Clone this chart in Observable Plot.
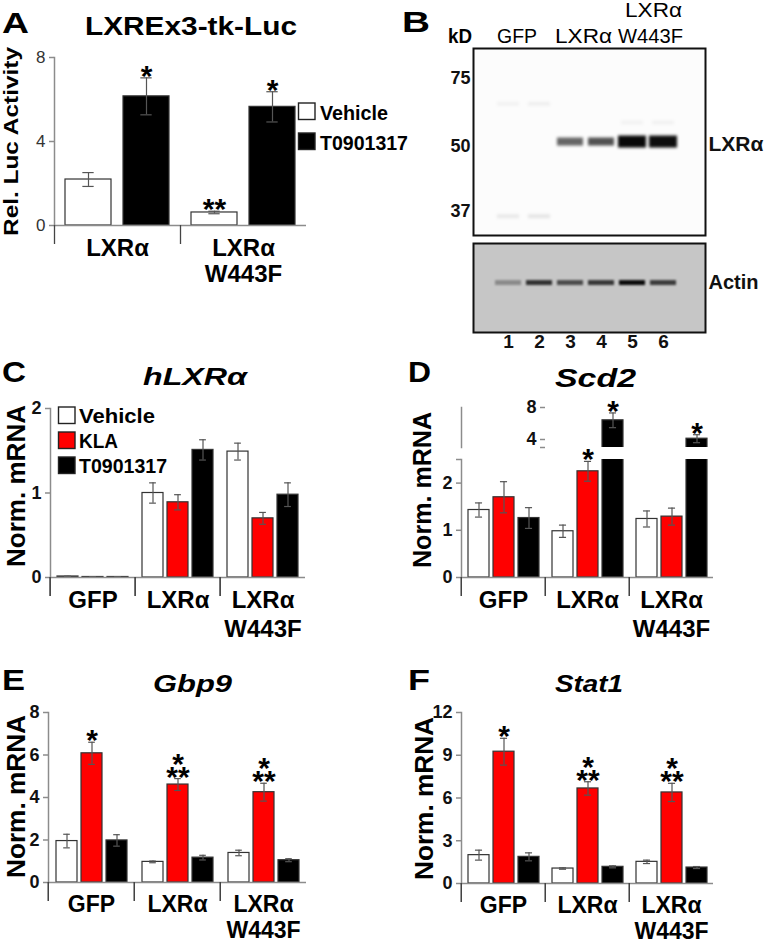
<!DOCTYPE html>
<html><head><meta charset="utf-8">
<script src="https://cdn.jsdelivr.net/npm/d3@7"></script>
<script src="https://cdn.jsdelivr.net/npm/@observablehq/plot@0.6"></script>
<style>
body{margin:0;background:#fff;}
#fig{position:relative;width:766px;height:943px;overflow:hidden;background:#fff;}
</style></head>
<body><div id="fig"></div>
<script>
// ---------- data ----------
const treat3 = ["Vehicle", "KLA", "T0901317"];
const treat2 = ["Vehicle", "T0901317"];
const fills3 = ["#ffffff", "#ff0000", "#000000"];
const fills2 = ["#ffffff", "#000000"];
const groups3 = ["GFP", "LXRα", "LXRα\nW443F"];
const groups2 = ["LXRα", "LXRα\nW443F"];

// Panel A: LXREx3-tk-Luc (groups2)
const aVehicle = [2.19, 0.62], aVehicleErr = [0.33, 0.06], aVehicleStar = ["", "**"];
const aT0901317 = [6.15, 5.65], aT0901317Err = [0.88, 0.72], aT0901317Star = ["*", "*"];

// Panel C: hLXRα
const cVehicle = [0.012, 1.00, 1.49], cVehicleErr = [0.004, 0.12, 0.10];
const cKLA = [0.006, 0.89, 0.70], cKLAErr = [0.002, 0.09, 0.07];
const cT0901317 = [0.006, 1.51, 0.98], cT0901317Err = [0.002, 0.12, 0.14];
const cStars = ["", "", ""];

// Panel D: Scd2
const dVehicle = [1.43, 0.98, 1.24], dVehicleErr = [0.15, 0.13, 0.17], dVehicleStar = ["", "", ""];
const dKLA = [1.70, 2.25, 1.29], dKLAErr = [0.33, 0.21, 0.18], dKLAStar = ["", "*", ""];
const dT0901317 = [1.26, 6.4, 4.1], dT0901317Err = [0.22, 0.92, 0.5], dT0901317Star = ["", "*", "*"];

// Panel E: Gbp9
const eVehicle = [1.95, 0.97, 1.39], eVehicleErr = [0.32, 0.04, 0.13];
const eKLA = [6.08, 4.61, 4.25], eKLAErr = [0.52, 0.28, 0.42], eKLAStar = ["*", "*\n**", "*\n**"];
const eT0901317 = [1.98, 1.17, 1.05], eT0901317Err = [0.27, 0.11, 0.07];

// Panel F: Stat1
const fVehicle = [1.99, 1.05, 1.52], fVehicleErr = [0.35, 0.05, 0.12];
const fKLA = [9.25, 6.67, 6.39], fKLAErr = [0.94, 0.47, 0.64], fKLAStar = ["*", "*\n**", "*\n**"];
const fT0901317 = [1.87, 1.17, 1.12], fT0901317Err = [0.28, 0.07, 0.07];

// Tick values
const aTicks = [0, 4, 8], cTicks = [0, 1, 2], dLowTicks = [0, 1, 2, 2.5], dHighTicks = [3, 4, 8];
const eTicks = [0, 2, 4, 6, 8], fTicks = [0, 3, 6, 9, 12];

// Panel B: western blot (band intensity 0..1)
const lanes = ["1", "2", "3", "4", "5", "6"];
const upperMarkers = [75, 50, 37], lowerMarkers = [50, 37];
const lxrKD = 51.5, lxrLevel = [0, 0, 0.6, 0.68, 0.97, 0.95];
const lowFaintKD = 36.2, lowFaintLevel = [0.08, 0.09, 0, 0, 0, 0];
const highFaintKD = 64.5, highFaintLevel = [0.04, 0.05, 0, 0, 0, 0];
const midFaintKD = 57.7, midFaintLevel = [0, 0, 0, 0, 0.04, 0.045];
const actinKD = 42.7, actinLevel = [0.3, 0.75, 0.62, 0.72, 0.95, 0.7];
const blotLabels = ["LXRα", "Actin"];

// ---------- helpers ----------
const FONT = "'Liberation Sans', Arial, Helvetica, sans-serif";
const fig = document.getElementById("fig");
const baseStyle = {background: "transparent", overflow: "visible", fontFamily: FONT};
const AX = "#8c8c8c";

function tidy(groups, treatments, means, errs, stars) {
  const rows = [];
  treatments.forEach((t, j) => groups.forEach((g, i) => rows.push({
    group: g, treatment: t, mean: means[j][i], err: errs[j][i], star: stars[j][i]
  })));
  return rows;
}
function place(svg, left, top) {
  svg.style.position = "absolute";
  svg.style.left = left + "px";
  svg.style.top = top + "px";
  fig.appendChild(svg);
}

function barPanel(o) {
  const {rows, groups, treatments, fills, yDomain, yTicks, tickFmt = d => d,
    left, top, width, height, ml, mr, mt, mb, pi = 0.17, po = 0.26, cap = 3.5,
    clip = false, base = true, cats = true, barRows = rows, detailRows = rows,
    tickFont = 18, tickWeight = "bold", tickFill = "#111", catPad = 12, catLH = 1.2, catFont = 24} = o;
  const facetW = (width - ml - mr) / groups.length;
  const step = facetW / (treatments.length - pi + 2 * po);
  const bw = step * (1 - pi);
  const ins = Math.max(0, bw / 2 - cap);
  const marks = [
    Plot.barY(barRows, {fx: "group", x: "treatment", y: "mean", fill: "treatment", stroke: "#333", strokeWidth: 1.2, clip}),
    Plot.ruleX(detailRows, {fx: "group", x: "treatment", y1: d => d.mean - d.err, y2: d => d.mean + d.err, stroke: "#555", strokeWidth: 1.2}),
    Plot.tickY(detailRows, {fx: "group", x: "treatment", y: d => d.mean + d.err, insetLeft: ins, insetRight: ins, stroke: "#555", strokeWidth: 1.2}),
    Plot.tickY(detailRows, {fx: "group", x: "treatment", y: d => d.mean - d.err, insetLeft: ins, insetRight: ins, stroke: "#555", strokeWidth: 1.2}),
    Plot.text(detailRows.filter(d => d.star), {fx: "group", x: "treatment", y: d => d.mean + d.err, text: "star",
      lineAnchor: "bottom", dy: 8, fontSize: 30, fontWeight: "bold", lineHeight: 0.43, fill: "#000"}),
    Plot.frame({anchor: "left", facetAnchor: "left", stroke: AX, strokeWidth: 1.5}),
    Plot.axisY(yTicks, {tickFormat: tickFmt, tickSize: 5, tickPadding: 4, fontSize: tickFont, fontWeight: tickWeight,
      fill: tickFill, stroke: AX, strokeWidth: 1.5, label: null})
  ];
  if (base) marks.push(Plot.ruleY([yDomain[0]], {stroke: AX, strokeWidth: 1.5}));
  if (cats) {
    marks.push(Plot.axisFx({anchor: "bottom", tickSize: 0, tickPadding: catPad, fontSize: catFont, fontWeight: "bold",
      lineHeight: catLH, fill: "#000", label: null}));
    marks.push(Plot.axisFx(groups.slice(1), {anchor: "bottom", tickSize: 19, tickFormat: () => "", dx: -facetW / 2,
      stroke: "#444", strokeWidth: 1.3, label: null}));
  }
  const fxOpts = cats ? {domain: groups, padding: 0} : {domain: groups, padding: 0, axis: null};
  const svg = Plot.plot({
    width, height, marginLeft: ml, marginRight: mr, marginTop: mt, marginBottom: mb,
    style: baseStyle,
    fx: fxOpts,
    x: {domain: treatments, paddingInner: pi, paddingOuter: po, axis: null},
    y: {domain: yDomain},
    color: {domain: treatments, range: fills},
    marks
  });
  place(svg, left, top);
  return svg;
}

// ---------- Panel A ----------
const aRows = tidy(groups2, treat2, [aVehicle, aT0901317], [aVehicleErr, aT0901317Err], [aVehicleStar, aT0901317Star]);
barPanel({rows: aRows, groups: groups2, treatments: treat2, fills: fills2, yDomain: [0, 8], yTicks: aTicks,
  left: 0, top: 40, width: 310, height: 250, ml: 54, mr: 4, mt: 17, mb: 65, pi: 0.2, po: 0.18, cap: 6,
  tickFont: 17, tickWeight: "normal", tickFill: "#333", catPad: 13, catLH: 1.05});

// ---------- Panel C ----------
const cRows = tidy(groups3, treat3, [cVehicle, cKLA, cT0901317], [cVehicleErr, cKLAErr, cT0901317Err], [cStars, cStars, cStars]);
barPanel({rows: cRows, groups: groups3, treatments: treat3, fills: fills3, yDomain: [0, 2], yTicks: cTicks,
  left: 0, top: 390, width: 310, height: 250, ml: 49, mr: 4, mt: 18, mb: 63, catPad: 10});

// ---------- Panel D (broken axis: two stacked scales) ----------
const dRows = tidy(groups3, treat3, [dVehicle, dKLA, dT0901317], [dVehicleErr, dKLAErr, dT0901317Err], [dVehicleStar, dKLAStar, dT0901317Star]);
barPanel({rows: dRows, groups: groups3, treatments: treat3, fills: fills3, yDomain: [0, 2.5], yTicks: dLowTicks,
  tickFmt: d => (d === 2.5 ? "" : d), clip: true, detailRows: dRows.filter(d => d.mean <= 2.5),
  left: 383, top: 440, width: 334, height: 200, ml: 77, mr: 4, mt: 19, mb: 63, catPad: 10});
barPanel({rows: dRows, groups: groups3, treatments: treat3, fills: fills3, yDomain: [3, 8], yTicks: dHighTicks,
  tickFmt: d => (d === 3 ? "" : d), clip: true, base: false, cats: false,
  barRows: dRows.filter(d => d.mean > 2.5), detailRows: dRows.filter(d => d.mean > 2.5),
  left: 383, top: 385, width: 334, height: 62, ml: 77, mr: 4, mt: 22, mb: 0});

// ---------- Panel E ----------
const noStar = ["", "", ""];
const eRows = tidy(groups3, treat3, [eVehicle, eKLA, eT0901317], [eVehicleErr, eKLAErr, eT0901317Err], [noStar, eKLAStar, noStar]);
barPanel({rows: eRows, groups: groups3, treatments: treat3, fills: fills3, yDomain: [0, 8], yTicks: eTicks,
  left: 0, top: 695, width: 310, height: 248, ml: 47, mr: 4, mt: 17, mb: 61, catPad: 11, catLH: 1.12, catFont: 23});

// ---------- Panel F ----------
const fRows = tidy(groups3, treat3, [fVehicle, fKLA, fT0901317], [fVehicleErr, fKLAErr, fT0901317Err], [noStar, fKLAStar, noStar]);
barPanel({rows: fRows, groups: groups3, treatments: treat3, fills: fills3, yDomain: [0, 12], yTicks: fTicks,
  left: 383, top: 695, width: 334, height: 248, ml: 77, mr: 4, mt: 17, mb: 60, catPad: 11, catLH: 1.12, catFont: 23});

// ---------- Panel B: blot ----------
const bandRows = (kD, levels) => lanes.map((l, i) => ({lane: l, kD, level: levels[i]})).filter(d => d.level > 0);
const lxrRows = bandRows(lxrKD, lxrLevel);
const faintRows = [...bandRows(lowFaintKD, lowFaintLevel), ...bandRows(highFaintKD, highFaintLevel), ...bandRows(midFaintKD, midFaintLevel)];
const actinRows = bandRows(actinKD, actinLevel);
const laneX = {type: "band", domain: lanes, paddingInner: 0.1, paddingOuter: 0.77, align: 0.42, axis: null};

// soften the band marks (Plot labels tick-mark groups aria-label="tick")
function addBlur(svg, id, sd, w, h) {
  const ns = "http://www.w3.org/2000/svg";
  const defs = document.createElementNS(ns, "defs");
  const f = document.createElementNS(ns, "filter");
  f.setAttribute("id", id);
  f.setAttribute("filterUnits", "userSpaceOnUse");
  f.setAttribute("x", "0"); f.setAttribute("y", "0");
  f.setAttribute("width", String(w)); f.setAttribute("height", String(h));
  const b = document.createElementNS(ns, "feGaussianBlur");
  b.setAttribute("stdDeviation", sd);
  f.appendChild(b); defs.appendChild(f);
  svg.insertBefore(defs, svg.firstChild);
  svg.querySelectorAll('g[aria-label="tick"]').forEach(g => g.setAttribute("filter", `url(#${id})`));
}

const upper = Plot.plot({
  width: 366, height: 240, marginLeft: 73, marginRight: 61, marginTop: 48, marginBottom: 5,
  style: baseStyle,
  x: laneX,
  y: {type: "log", domain: [33.1, 37, 50, 75, 89.6], range: [235, 211, 146, 78, 48]},
  marks: [
    Plot.frame({fill: "#fcfcfc"}),
    Plot.tickY(faintRows, {x: "lane", y: "kD", stroke: "#000", strokeOpacity: "level", strokeWidth: 4, insetLeft: 3, insetRight: 3}),
    Plot.tickY(lxrRows.filter(d => d.level < 0.8), {x: "lane", y: "kD", stroke: "#000", strokeOpacity: "level", strokeWidth: 8, insetLeft: 1, insetRight: 1}),
    Plot.tickY(lxrRows.filter(d => d.level >= 0.8), {x: "lane", y: "kD", stroke: "#000", strokeOpacity: "level", strokeWidth: 12, insetLeft: 0, insetRight: 0}),
    Plot.frame({stroke: "#111", strokeWidth: 2}),
    Plot.axisY(upperMarkers, {tickSize: 0, tickPadding: 3, fontSize: 18, fontWeight: "bold", fill: "#111", label: null}),
    Plot.text([{label: blotLabels[0], kD: lxrKD}], {y: "kD", text: "label", frameAnchor: "right", textAnchor: "start", dx: 3, dy: 3, fontSize: 21, fontWeight: "bold", fill: "#111"})
  ]
});
addBlur(upper, "blurUpper", 1.8, 366, 240);
place(upper, 400, 0);

const lower = Plot.plot({
  width: 366, height: 120, marginLeft: 73, marginRight: 61, marginTop: 3, marginBottom: 28,
  style: baseStyle,
  x: laneX,
  y: {type: "log", domain: [33.6, 51.5]},
  marks: [
    Plot.frame({fill: "#c6c6c6"}),
    Plot.tickY(actinRows, {x: "lane", y: "kD", stroke: "#000", strokeOpacity: "level", strokeWidth: 5, insetLeft: 1, insetRight: 1}),
    Plot.frame({stroke: "#111", strokeWidth: 2}),
    Plot.axisY(lowerMarkers, {tickSize: 0, tickPadding: 3, fontSize: 18, fontWeight: "bold", fill: "#111", label: null}),
    Plot.axisX({anchor: "bottom", tickSize: 0, tickPadding: 2, fontSize: 19, fontWeight: "bold", fill: "#111", label: null}),
    Plot.text([{label: blotLabels[1], kD: actinKD}], {y: "kD", text: "label", frameAnchor: "right", textAnchor: "start", dx: 3, fontSize: 20, fontWeight: "bold", fill: "#111"})
  ]
});
addBlur(lower, "blurLower", 1.2, 366, 120);
place(lower, 400, 240);

// ---------- overlay: panel letters, titles, y labels, legends ----------
const ov = d3.select(fig).append("svg").attr("width", 766).attr("height", 943)
  .style("position", "absolute").style("left", "0px").style("top", "0px").style("overflow", "visible")
  .attr("font-family", FONT);
function label(s, x, y, size, {weight = "bold", italic = false, len = null, rotate = false, anchor = "start", fill = "#000"} = {}) {
  const t = ov.append("text").text(s).attr("font-size", size).attr("font-weight", weight)
    .attr("font-style", italic ? "italic" : "normal").attr("text-anchor", rotate ? "middle" : anchor).attr("fill", fill);
  if (rotate) t.attr("transform", `translate(${x},${y}) rotate(-90)`); else t.attr("x", x).attr("y", y);
  if (len) t.attr("textLength", len).attr("lengthAdjust", "spacingAndGlyphs");
}
// Panel letters
label("A", 2, 33, 29, {len: 27});
label("B", 402, 32, 29, {len: 28});
label("C", 2, 382, 30, {len: 24});
label("D", 408, 382, 30, {len: 23});
label("E", 2, 690, 30, {len: 23});
label("F", 408, 690, 30, {len: 22});
// Titles
label("LXREx3-tk-Luc", 85, 35, 25, {len: 212});
label("hLXRα", 143, 385, 24, {italic: true, len: 104});
label("Scd2", 555, 387, 25, {italic: true, len: 81});
label("Gbp9", 153, 692, 24, {italic: true, len: 79});
label("Stat1", 555, 692, 24, {italic: true, len: 68});
// y-axis titles
label("Rel. Luc Activity", 18, 141.5, 21, {rotate: true, len: 189});
label("Norm. mRNA", 25, 486, 26, {rotate: true, len: 162});
label("Norm. mRNA", 431, 490, 26, {rotate: true, len: 156});
label("Norm. mRNA", 25, 796.5, 26, {rotate: true, len: 163});
label("Norm. mRNA", 433, 798.5, 26, {rotate: true, len: 163});
// Blot headers
label("kD", 448, 43, 20, {len: 24});
label("GFP", 497, 43, 20, {weight: "normal", len: 40});
label("LXRα", 555, 43, 20, {weight: "normal", len: 57});
label("LXRα", 625, 17, 20, {weight: "normal", len: 57});
label("W443F", 618, 43, 20, {weight: "normal", len: 65});
// Legends
treat2.forEach((t, i) => {
  ov.append("rect").attr("x", 298.5).attr("y", 103 + i * 30).attr("width", 16.5).attr("height", 16.5)
    .attr("fill", fills2[i]).attr("stroke", "#222").attr("stroke-width", 1.4);
});
label(treat2[0], 320, 120, 21, {len: 68});
label(treat2[1], 320, 150, 21, {len: 88});
treat3.forEach((t, i) => {
  ov.append("rect").attr("x", 58.5).attr("y", 407 + i * 25).attr("width", 16.5).attr("height", 16.5)
    .attr("fill", fills3[i]).attr("stroke", "#222").attr("stroke-width", 1.4);
});
label(treat3[0], 79, 423, 20, {len: 76});
label(treat3[1], 79, 448, 20, {len: 39});
label(treat3[2], 79, 473, 20, {len: 88});
</script>
</body></html>
